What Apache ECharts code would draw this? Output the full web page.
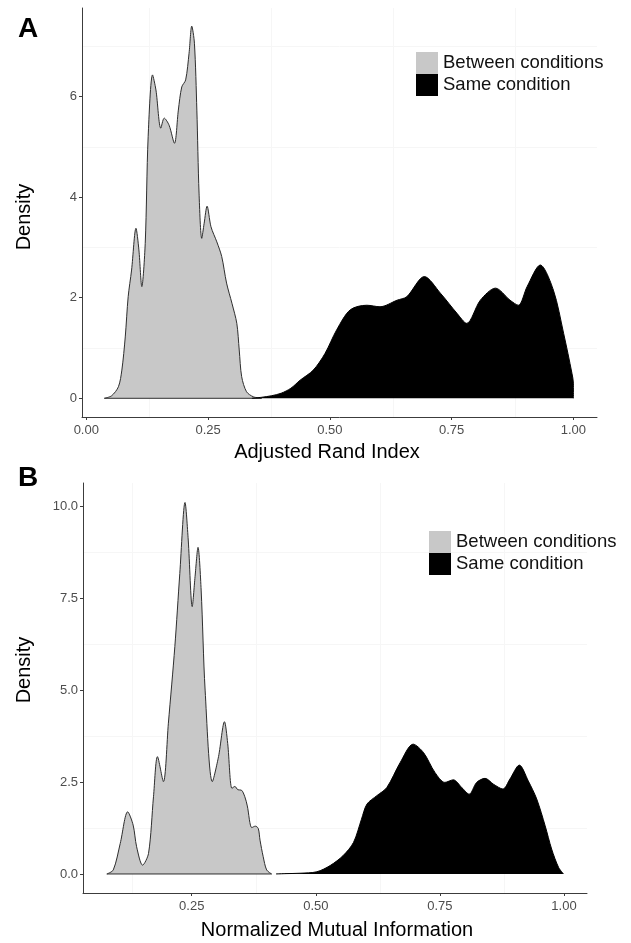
<!DOCTYPE html>
<html>
<head>
<meta charset="utf-8">
<script src="https://cdn.jsdelivr.net/npm/echarts@6/dist/echarts.min.js"></script>
<style>
  html, body { margin: 0; padding: 0; background: #fff; }
  #chart { width: 631px; height: 943px; }
</style>
</head>
<body>
<div id="chart"></div>
<script>
// ---------- Data ----------
// Panel A: Adjusted Rand Index densities
const ariBetweenX = [0.037,0.052,0.066,0.073,0.080,0.086,0.093,0.102,0.108,0.114,0.121,0.127,0.136,0.143,0.153,0.160,0.170,0.181,0.189,0.196,0.204,0.211,0.2165,0.222,0.227,0.2315,0.237,0.242,0.248,0.256,0.268,0.278,0.288,0.299,0.309,0.314,0.319,0.329,0.343,0.360];
const ariBetweenY = [0,0.05,0.23,0.56,1.22,2.02,2.55,3.38,2.95,2.22,3.08,5.20,6.43,6.13,5.37,5.57,5.43,5.07,5.73,6.19,6.33,6.86,7.40,7.06,5.73,4.08,3.18,3.48,3.82,3.41,3.11,2.82,2.29,1.89,1.49,0.96,0.43,0.13,0.03,0];
const ariSameX = [0.340,0.360,0.380,0.400,0.420,0.439,0.466,0.490,0.514,0.542,0.576,0.603,0.638,0.658,0.694,0.727,0.761,0.781,0.809,0.840,0.870,0.887,0.905,0.932,0.959,0.980,0.997,1.000,1.000];
const ariSameY = [0,0.02,0.05,0.10,0.20,0.36,0.56,0.89,1.36,1.76,1.85,1.82,1.95,2.02,2.42,2.09,1.69,1.49,1.95,2.19,1.95,1.85,2.22,2.65,2.15,1.29,0.50,0.30,0];

// Panel B: Normalized Mutual Information densities
const nmiBetweenX = [0.079,0.092,0.106,0.121,0.132,0.139,0.151,0.163,0.173,0.181,0.193,0.203,0.216,0.226,0.2365,0.243,0.251,0.2567,0.2627,0.269,0.277,0.2915,0.304,0.316,0.3225,0.331,0.337,0.343,0.350,0.357,0.362,0.371,0.378,0.384,0.3876,0.394,0.401,0.411];
const nmiBetweenY = [0,0.11,0.83,1.69,1.33,0.74,0.24,0.56,2.10,3.19,2.51,4.10,6.18,8.17,10.10,9.08,7.27,8.08,8.88,7.72,5.00,2.51,3.19,4.14,3.55,2.33,2.38,2.29,2.28,2.10,1.85,1.26,1.30,1.24,0.92,0.47,0.11,0];
const nmiSameX = [0.420,0.440,0.468,0.502,0.529,0.555,0.576,0.592,0.603,0.623,0.643,0.670,0.696,0.717,0.740,0.760,0.777,0.794,0.809,0.824,0.841,0.858,0.877,0.891,0.910,0.928,0.945,0.962,0.975,0.989,0.999];
const nmiSameY = [0,0.01,0.02,0.06,0.23,0.50,0.86,1.49,1.90,2.13,2.35,3.03,3.53,3.30,2.76,2.49,2.56,2.35,2.17,2.49,2.60,2.44,2.31,2.58,2.96,2.53,2.04,1.31,0.68,0.18,0];

// Tick values
const ariXTicks = [0, 0.25, 0.5, 0.75, 1];
const ariYTicks = [0, 2, 4, 6];
const nmiXTicks = [0.25, 0.5, 0.75, 1];
const nmiYTicks = [0, 2.5, 5, 7.5, 10];
// Faint minor grid lines
const ariXGrid = [0.125, 0.375, 0.625, 0.875];
const ariYGrid = [1, 3, 5, 7];
const nmiXGrid = [0.125, 0.375, 0.625, 0.875];
const nmiYGrid = [1.25, 3.75, 6.25, 8.75];

const seriesNames = ['Between conditions', 'Same condition'];
const panelLetters = ['A', 'B'];
const xTitles = ['Adjusted Rand Index', 'Normalized Mutual Information'];
const yTitle = 'Density';

// ---------- Styling ----------
const FONT = "'Liberation Sans', Arial, Helvetica, sans-serif";
const GREY = '#c8c8c8';
const OUTLINE = '#2e2e2e';
const AXIS = '#3c3c3c';
const TICKTXT = '#4d4d4d';

const zip = (xs, ys) => xs.map((x, i) => [x, ys[i]]);

function xAxisCfg(grid, min, max, ticks) {
  return {
    type: 'value', gridIndex: grid, min: min, max: max,
    axisLine: { show: true, onZero: false, lineStyle: { color: AXIS, width: 1 } },
    axisTick: { show: true, length: 3, customValues: ticks, lineStyle: { color: AXIS } },
    axisLabel: { show: true, customValues: ticks, margin: 7, color: TICKTXT, fontSize: 13, fontFamily: FONT,
                 formatter: v => v.toFixed(2) },
    splitLine: { show: false }
  };
}
function yAxisCfg(grid, min, max, ticks, digits) {
  return {
    type: 'value', gridIndex: grid, min: min, max: max,
    axisLine: { show: true, onZero: false, lineStyle: { color: AXIS, width: 1 } },
    axisTick: { show: true, length: 3, customValues: ticks, lineStyle: { color: AXIS } },
    axisLabel: { show: true, customValues: ticks, margin: 5, color: TICKTXT, fontSize: 13, fontFamily: FONT,
                 formatter: v => v.toFixed(digits) },
    splitLine: { show: false }
  };
}

function gridSeries(idx, xs, ys) {
  return {
    type: 'line', xAxisIndex: idx, yAxisIndex: idx, data: [], silent: true, z: 0,
    markLine: {
      silent: true, symbol: 'none', z: 0, animation: false,
      label: { show: false },
      lineStyle: { color: '#f6f6f6', type: 'solid', width: 1 },
      data: xs.map(v => ({ xAxis: v })).concat(ys.map(v => ({ yAxis: v })))
    }
  };
}
function densitySeries(idx, name, xs, ys, fill, stroke, z) {
  return {
    name: name, type: 'line', xAxisIndex: idx, yAxisIndex: idx,
    data: zip(xs, ys), smooth: 0.3, symbol: 'none', z: z, animation: false,
    lineStyle: { color: stroke, width: 1 },
    itemStyle: { color: fill },
    areaStyle: { color: fill, opacity: 1 }
  };
}
function baselineSeries(idx, xs) {
  return {
    type: 'line', xAxisIndex: idx, yAxisIndex: idx, silent: true, animation: false,
    data: [[xs[0], 0], [xs[xs.length - 1], 0]], symbol: 'none', z: 2,
    lineStyle: { color: OUTLINE, width: 1 }
  };
}
function legendCfg(left, top) {
  return {
    orient: 'vertical', left: left, top: top, padding: 0,
    itemWidth: 22, itemHeight: 22, itemGap: 0, icon: 'rect',
    selectedMode: false,
    itemStyle: { borderWidth: 0 },
    textStyle: { fontSize: 18.5, fontFamily: FONT, color: '#111' },
    data: seriesNames
  };
}
function textEl(text, x, y, size, weight, rot) {
  return {
    type: 'text', x: x, y: y, rotation: rot || 0, silent: true,
    style: { text: text, fontSize: size, fontWeight: weight, fontFamily: FONT, fill: '#000',
             align: 'center', verticalAlign: 'middle' }
  };
}

const chart = echarts.init(document.getElementById('chart'), null, { renderer: 'canvas' });
chart.setOption({
  backgroundColor: '#fff',
  animation: false,
  grid: [
    { left: 82, top: 8, width: 515, height: 409 },
    { left: 83, top: 483, width: 504, height: 410 }
  ],
  xAxis: [
    xAxisCfg(0, -0.0088, 1.0485, ariXTicks),
    xAxisCfg(1, 0.031, 1.0463, nmiXTicks)
  ],
  yAxis: [
    yAxisCfg(0, -0.372, 7.76, ariYTicks, 0),
    yAxisCfg(1, -0.517, 10.63, nmiYTicks, 1)
  ],
  legend: [legendCfg(416, 52), legendCfg(429, 531)],
  graphic: [
    textEl(panelLetters[0], 28, 29, 28, 'bold'),
    textEl(panelLetters[1], 28, 478, 28, 'bold'),
    textEl(xTitles[0], 327, 452, 20, 'normal'),
    textEl(xTitles[1], 337, 930, 20, 'normal'),
    textEl(yTitle, 24, 217, 20, 'normal', Math.PI / 2),
    textEl(yTitle, 24, 670, 20, 'normal', Math.PI / 2)
  ],
  series: [
    gridSeries(0, ariXGrid, ariYGrid),
    gridSeries(1, nmiXGrid, nmiYGrid),
    densitySeries(0, seriesNames[0], ariBetweenX, ariBetweenY, GREY, OUTLINE, 2),
    baselineSeries(0, ariBetweenX),
    densitySeries(0, seriesNames[1], ariSameX, ariSameY, '#000', '#000', 3),
    densitySeries(1, seriesNames[0], nmiBetweenX, nmiBetweenY, GREY, OUTLINE, 2),
    baselineSeries(1, nmiBetweenX),
    densitySeries(1, seriesNames[1], nmiSameX, nmiSameY, '#000', '#000', 3)
  ]
});
</script>
</body>
</html>
